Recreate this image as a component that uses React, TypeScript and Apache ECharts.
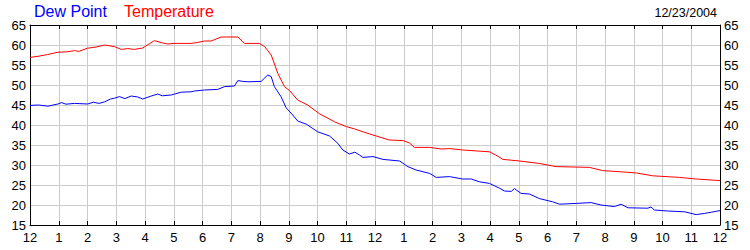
import React, { useEffect, useRef } from "react";
import * as echarts from "echarts";

const tempHours = [0, 0.3, 0.6, 0.97, 1.3, 1.55, 1.7, 2.0, 2.3, 2.6, 2.94, 3.17, 3.4, 3.63, 3.92, 4.15, 4.33, 4.56, 4.79, 5.0, 5.6, 5.8, 6.07, 6.3, 6.65, 7.23, 7.46, 7.98, 8.16, 8.39, 8.62, 8.85, 9.03, 9.31, 9.66, 10.07, 10.36, 10.59, 11.0, 11.3, 11.58, 12.04, 12.5, 12.97, 13.2, 13.37, 13.9, 14.3, 14.6, 15.05, 15.98, 16.2, 16.45, 17.03, 17.7, 18.3, 19.46, 19.92, 20.74, 21.1, 21.66, 22.59, 23.17, 24];
const tempValues = [56.9, 57.2, 57.6, 58.2, 58.3, 58.6, 58.4, 59.2, 59.5, 60, 59.6, 58.9, 59.1, 58.9, 59.25, 60.3, 61.1, 60.6, 60.25, 60.4, 60.4, 60.6, 61, 61, 62, 62, 60.4, 60.4, 59.6, 57.5, 52.9, 49.6, 48.6, 46.25, 45, 42.8, 41.7, 40.8, 39.6, 39, 38.3, 37.25, 36.25, 36.1, 35.5, 34.4, 34.4, 34, 34.1, 33.75, 33.3, 32.5, 31.4, 31, 30.4, 29.6, 29.4, 28.6, 28.2, 28, 27.3, 26.9, 26.5, 26.1];

const dewHours = [0, 0.3, 0.62, 0.97, 1.1, 1.25, 1.55, 2.01, 2.2, 2.4, 2.6, 2.8, 2.94, 3.11, 3.3, 3.52, 3.75, 3.92, 4.2, 4.44, 4.6, 4.91, 5.26, 5.6, 5.72, 6.07, 6.53, 6.77, 7.11, 7.23, 7.4, 7.58, 8.04, 8.27, 8.39, 8.5, 8.73, 8.91, 9.14, 9.31, 9.61, 10.01, 10.42, 10.71, 10.88, 11.11, 11.3, 11.46, 11.58, 11.93, 12.28, 12.86, 13.14, 13.43, 13.9, 14.13, 14.59, 15.05, 15.35, 15.63, 15.98, 16.33, 16.5, 16.74, 16.85, 17.08, 17.37, 17.72, 18.18, 18.42, 19.0, 19.52, 19.86, 20.33, 20.56, 20.8, 21.49, 21.6, 21.72, 22.18, 22.77, 23.17, 23.47, 23.7, 24];
const dewValues = [44.9, 45, 44.7, 45.25, 45.6, 45.2, 45.4, 45.25, 45.7, 45.4, 45.8, 46.5, 46.7, 47.1, 46.6, 47.25, 47, 46.5, 47.2, 47.75, 47.3, 47.5, 48.2, 48.3, 48.5, 48.75, 48.9, 49.6, 49.75, 51.1, 50.9, 50.8, 50.9, 52.5, 52.1, 49.6, 47.1, 44.3, 42.5, 41, 40.2, 38.3, 37.25, 35.4, 33.75, 32.75, 33.2, 32.5, 31.9, 32.1, 31.4, 31, 29.6, 28.75, 27.9, 26.9, 27.1, 26.5, 26.5, 25.8, 25.4, 24.2, 23.5, 23.4, 24.1, 22.9, 22.75, 21.6, 20.8, 20.2, 20.4, 20.6, 20, 19.6, 20.2, 19.3, 19.2, 19.5, 18.75, 18.5, 18.3, 17.6, 17.9, 18.2, 18.6];

const seriesNames = ["Dew Point", "Temperature"];
const dateLabel = "12/23/2004";
const xMin = 0;
const xMax = 24;
const yMin = 15;
const yMax = 65;

const FONT = "'Liberation Sans', Arial, sans-serif";

export default function App() {
  const ref = useRef<HTMLDivElement>(null);
  useEffect(() => {
    if (!ref.current) return;
    const chart = echarts.init(ref.current, undefined, { renderer: "svg" });
    const hourLabel = (v: number) => {
      const h = Math.round(v) % 12;
      return String(h === 0 ? 12 : h);
    };
    const axisLabelStyle = { color: "#000", fontFamily: FONT, fontSize: 13 };
    chart.setOption({
      animation: false,
      backgroundColor: "#fff",
      grid: { left: 30, right: 30, top: 25, bottom: 25, containLabel: false },
      graphic: [
        { type: "text", left: 34, top: 3, style: { text: seriesNames[0], fill: "#0000ff", font: `16px ${FONT}` } },
        { type: "text", left: 124, top: 3, style: { text: seriesNames[1], fill: "#ff0000", font: `16px ${FONT}` } },
        { type: "text", right: 33, top: 6, style: { text: dateLabel, fill: "#000", font: `12.5px ${FONT}` } },
      ],
      xAxis: [
        {
          type: "value", min: xMin, max: xMax, interval: 1, position: "bottom",
          axisLine: { show: true, onZero: false, lineStyle: { color: "#000", width: 1 } },
          axisTick: { show: true, inside: true, length: 4, lineStyle: { color: "#000" } },
          axisLabel: { ...axisLabelStyle, margin: 6, formatter: hourLabel, showMinLabel: true, showMaxLabel: true },
          splitLine: { show: true, lineStyle: { color: "#cccccc", width: 1 } },
        },
        {
          type: "value", min: xMin, max: xMax, interval: 1, position: "top",
          axisLine: { show: true, onZero: false, lineStyle: { color: "#000", width: 1 } },
          axisTick: { show: true, inside: true, length: 4, lineStyle: { color: "#000" } },
          axisLabel: { show: false },
          splitLine: { show: false },
        },
      ],
      yAxis: [
        {
          type: "value", min: yMin, max: yMax, interval: 5, position: "left",
          axisLine: { show: true, onZero: false, lineStyle: { color: "#000", width: 1 } },
          axisTick: { show: false },
          axisLabel: { ...axisLabelStyle, margin: 4 },
          splitLine: { show: true, lineStyle: { color: "#cccccc", width: 1 } },
        },
        {
          type: "value", min: yMin, max: yMax, interval: 5, position: "right",
          axisLine: { show: true, onZero: false, lineStyle: { color: "#000", width: 1 } },
          axisTick: { show: false },
          axisLabel: { ...axisLabelStyle, margin: 4 },
          splitLine: { show: false },
        },
      ],
      series: [
        {
          name: seriesNames[0], type: "line", showSymbol: false, symbol: "none",
          data: dewHours.map((h, i) => [h, dewValues[i]]),
          lineStyle: { color: "#0000ff", width: 1 }, itemStyle: { color: "#0000ff" },
        },
        {
          name: seriesNames[1], type: "line", showSymbol: false, symbol: "none",
          data: tempHours.map((h, i) => [h, tempValues[i]]),
          lineStyle: { color: "#ff0000", width: 1 }, itemStyle: { color: "#ff0000" },
        },
      ],
    });
    return () => chart.dispose();
  }, []);
  return (
    <div
      ref={ref}
      style={{ position: "fixed", left: 0, top: 0, width: 750, height: 250 }}
    />
  );
}
